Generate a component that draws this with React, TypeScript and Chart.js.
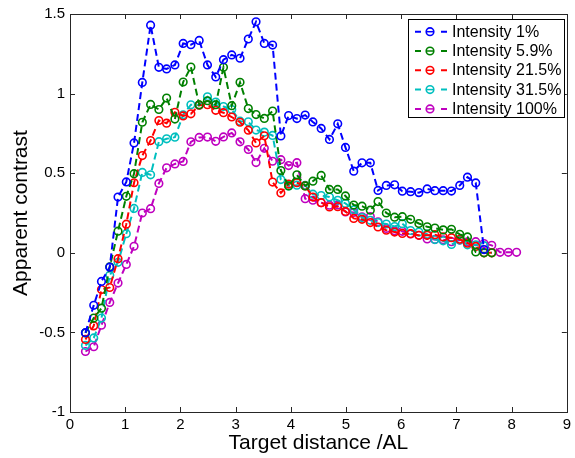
import React, { useEffect, useRef } from "react";
import { Chart, registerables } from "chart.js";

Chart.register(...registerables);

const distances = [
  0.28, 0.43, 0.57, 0.72, 0.87, 1.02, 1.16, 1.31, 1.46, 1.61, 1.75, 1.9, 2.05, 2.19, 2.34, 2.49, 2.64, 2.78,
  2.93, 3.08, 3.23, 3.37, 3.52, 3.67, 3.82, 3.96, 4.11, 4.26, 4.4, 4.55, 4.7, 4.85, 4.99, 5.14, 5.29, 5.44,
  5.58, 5.73, 5.88, 6.02, 6.17, 6.32, 6.47, 6.61, 6.76, 6.91, 7.06, 7.2, 7.35, 7.5, 7.64, 7.79, 7.94, 8.09,
];

const intensity1 = [
  -0.502, -0.33, -0.18, -0.09, 0.35, 0.445, 0.69, 1.07, 1.43, 1.165, 1.155, 1.18, 1.315, 1.307, 1.334, 1.18,
  1.105, 1.213, 1.243, 1.222, 1.343, 1.451, 1.315, 1.305, 0.734, 0.862, 0.843, 0.865, 0.822, 0.781, 0.712,
  0.81, 0.662, 0.513, 0.565, 0.565, 0.392, 0.423, 0.427, 0.387, 0.384, 0.378, 0.401, 0.39, 0.39, 0.388,
  0.423, 0.475, 0.439, 0.02,
];

const intensity5_9 = [
  -0.503, -0.41, -0.348, -0.088, 0.136, 0.355, 0.497, 0.82, 0.932, 0.9, 0.972, 0.84, 1.073, 1.167, 0.93,
  0.955, 0.93, 1.165, 0.924, 1.071, 0.906, 0.868, 0.844, 0.89, 0.517, 0.42, 0.49, 0.42, 0.45, 0.486, 0.398,
  0.398, 0.357, 0.3, 0.293, 0.268, 0.322, 0.25, 0.224, 0.227, 0.21, 0.184, 0.163, 0.155, 0.144, 0.148,
  0.116, 0.1, 0.005, 0.0, 0.0,
];

const intensity21_5 = [
  -0.544, -0.459, -0.231, -0.218, -0.037, 0.18, 0.44, 0.611, 0.705, 0.831, 0.814, 0.883, 0.86, 0.873,
  0.927, 0.93, 0.895, 0.88, 0.853, 0.82, 0.77, 0.69, 0.735, 0.444, 0.376, 0.432, 0.44, 0.42, 0.35, 0.315,
  0.288, 0.29, 0.26, 0.216, 0.21, 0.19, 0.162, 0.142, 0.13, 0.122, 0.12, 0.11, 0.11, 0.114, 0.1, 0.095,
  0.085, 0.06, 0.04, 0.0, 0.0,
];

const intensity31_5 = [
  -0.582, -0.535, -0.41, -0.141, -0.06, 0.12, 0.279, 0.505, 0.49, 0.698, 0.716, 0.726, 0.867, 0.93, 0.927,
  0.98, 0.947, 0.919, 0.9, 0.827, 0.823, 0.771, 0.758, 0.737, 0.46, 0.42, 0.425, 0.424, 0.368, 0.36, 0.35,
  0.33, 0.31, 0.27, 0.221, 0.204, 0.19, 0.181, 0.165, 0.183, 0.14, 0.13, 0.117, 0.083, 0.075, 0.052, 0.08,
  0.05, 0.05, 0.045,
];

const intensity100 = [
  -0.62, -0.59, -0.455, -0.312, -0.19, -0.073, 0.041, 0.25, 0.277, 0.436, 0.534, 0.558, 0.574, 0.697,
  0.725, 0.727, 0.7, 0.728, 0.753, 0.697, 0.649, 0.567, 0.656, 0.575, 0.585, 0.548, 0.566, 0.34, 0.33,
  0.315, 0.299, 0.301, 0.257, 0.253, 0.226, 0.228, 0.195, 0.153, 0.138, 0.135, 0.118, 0.11, 0.087, 0.084,
  0.082, 0.07, 0.08, 0.068, 0.07, 0.058, 0.047, 0.003, 0.003, 0.003,
];

const seriesLabels = ["Intensity 1%", "Intensity 5.9%", "Intensity 21.5%", "Intensity 31.5%", "Intensity 100%"];
const seriesValues = [intensity1, intensity5_9, intensity21_5, intensity31_5, intensity100];
const seriesColors = ["#0000ff", "#008000", "#ff0000", "#00bfbf", "#bf00bf"];

const xTicks = [0, 1, 2, 3, 4, 5, 6, 7, 8, 9];
const yTicks = [-1, -0.5, 0, 0.5, 1, 1.5];

const FONT = '"Liberation Sans", Arial, sans-serif';
const AXIS_COLOR = "#262626";

const framePlugin = {
  id: "matlabFrame",
  afterDatasetsDraw(chart: any) {
    const { ctx, chartArea } = chart;
    const { left, right, top, bottom } = chartArea;
    const xs = chart.scales.x;
    const ys = chart.scales.y;
    ctx.save();
    ctx.strokeStyle = AXIS_COLOR;
    ctx.lineWidth = 1;
    ctx.strokeRect(Math.round(left) + 0.5, Math.round(top) + 0.5, Math.round(right - left), Math.round(bottom - top));
    const tl = 5;
    ctx.beginPath();
    xTicks.forEach((v) => {
      const px = Math.round(xs.getPixelForValue(v)) + 0.5;
      ctx.moveTo(px, bottom);
      ctx.lineTo(px, bottom - tl);
      ctx.moveTo(px, top);
      ctx.lineTo(px, top + tl);
    });
    yTicks.forEach((v) => {
      const py = Math.round(ys.getPixelForValue(v)) + 0.5;
      ctx.moveTo(left, py);
      ctx.lineTo(left + tl, py);
      ctx.moveTo(right, py);
      ctx.lineTo(right - tl, py);
    });
    ctx.stroke();

    // axis titles
    ctx.fillStyle = "#000";
    ctx.font = `21px ${FONT}`;
    ctx.textAlign = "center";
    ctx.textBaseline = "middle";
    ctx.fillText("Target distance /AL", (left + right) / 2, 443);
    ctx.save();
    ctx.translate(21, (top + bottom) / 2);
    ctx.rotate(-Math.PI / 2);
    ctx.fillText("Apparent contrast", 0, 0);
    ctx.restore();
    ctx.restore();
  },
};

const legendPlugin = {
  id: "matlabLegend",
  afterDraw(chart: any) {
    const { ctx } = chart;
    const x0 = 408.5;
    const y0 = 19.5;
    const w = 156;
    const h = 98;
    ctx.save();
    ctx.fillStyle = "#fff";
    ctx.fillRect(x0, y0, w, h);
    ctx.strokeStyle = "#000";
    ctx.lineWidth = 1;
    ctx.strokeRect(x0, y0, w, h);
    chart.data.datasets.forEach((ds: any, i: number) => {
      const cy = 31.7 + i * 19.3;
      ctx.strokeStyle = ds.borderColor;
      ctx.lineWidth = 2;
      ctx.setLineDash([]);
      ctx.beginPath();
      ctx.moveTo(415, cy);
      ctx.lineTo(421, cy);
      ctx.moveTo(441, cy);
      ctx.lineTo(447, cy);
      ctx.stroke();
      ctx.lineWidth = 1.6;
      ctx.beginPath();
      ctx.arc(430, cy, 3.8, 0, Math.PI * 2);
      ctx.stroke();
      ctx.beginPath();
      ctx.moveTo(427, cy);
      ctx.lineTo(433, cy);
      ctx.lineWidth = 1.5;
      ctx.stroke();
      ctx.fillStyle = "#000";
      ctx.font = `16px ${FONT}`;
      ctx.textAlign = "left";
      ctx.textBaseline = "middle";
      ctx.fillText(ds.label, 452, cy + 0.5);
    });
    ctx.restore();
  },
};

export default function App() {
  const canvasRef = useRef<HTMLCanvasElement | null>(null);

  useEffect(() => {
    document.body.style.margin = "0";
    const canvas = canvasRef.current;
    if (!canvas) return;
    const datasets = seriesValues.map((vals, k) => ({
      label: seriesLabels[k],
      data: vals.map((v, i) => ({ x: distances[i], y: v })),
      borderColor: seriesColors[k],
      backgroundColor: "rgba(0,0,0,0)",
      borderWidth: 2,
      borderDash: [7, 4],
      pointRadius: 3.8,
      pointBorderWidth: 1.6,
      pointBorderColor: seriesColors[k],
      pointBackgroundColor: "rgba(0,0,0,0)",
      tension: 0,
      fill: false,
    }));
    const chart = new Chart(canvas, {
      type: "line",
      data: { datasets },
      options: {
        responsive: false,
        animation: false,
        devicePixelRatio: 1,
        layout: { padding: { top: 13, right: 5, left: 0, bottom: 0 } },
        plugins: { legend: { display: false }, tooltip: { enabled: false } },
        scales: {
          x: {
            type: "linear",
            min: 0,
            max: 9,
            grid: { display: false, drawTicks: false },
            border: { display: false },
            afterBuildTicks: (s: any) => {
              s.ticks = xTicks.map((v) => ({ value: v }));
            },
            afterFit: (s: any) => {
              s.height = 46;
            },
            ticks: {
              color: "#000",
              font: { family: FONT, size: 15 },
              padding: 4,
              maxRotation: 0,
              callback: (v: any) => String(v),
            },
          },
          y: {
            type: "linear",
            min: -1,
            max: 1.5,
            grid: { display: false, drawTicks: false },
            border: { display: false },
            afterBuildTicks: (s: any) => {
              s.ticks = yTicks.map((v) => ({ value: v }));
            },
            afterFit: (s: any) => {
              s.width = 70;
            },
            ticks: {
              color: "#000",
              font: { family: FONT, size: 15 },
              padding: 5,
              callback: (v: any) => String(v),
            },
          },
        },
      },
      plugins: [framePlugin, legendPlugin],
    } as any);
    return () => chart.destroy();
  }, []);

  return (
    <div style={{ position: "fixed", left: 0, top: 0, width: 575, height: 458, background: "#fff" }}>
      <canvas ref={canvasRef} width={575} height={458} />
    </div>
  );
}
